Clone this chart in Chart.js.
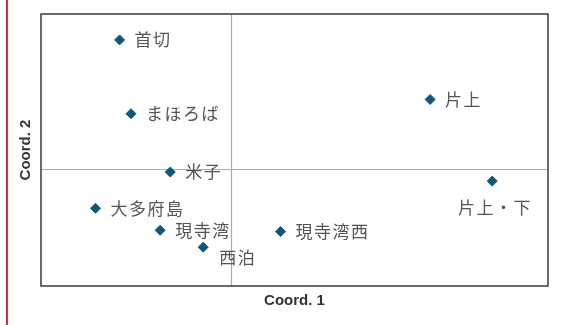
<!DOCTYPE html>
<html lang="ja">
<head>
<meta charset="utf-8">
<title>Coord. 1 / Coord. 2</title>
<script src="https://cdn.jsdelivr.net/npm/chart.js@4/dist/chart.umd.min.js"></script>
<style>
  html, body { margin: 0; padding: 0; background: #fff; }
  #wrap { position: relative; width: 569px; height: 325px; }
  #edge { position: absolute; left: 6px; top: 0; width: 2px; height: 325px; background: #e8262b; }
  canvas { display: block; }
</style>
</head>
<body>
<div id="wrap">
  <div id="edge"></div>
  <canvas id="ordination" width="569" height="325"></canvas>
</div>
<script>
// site names and their positions on the two ordination axes
const sites = ['首切', 'まほろば', '米子', '大多府島', '現寺湾', '西泊', '現寺湾西', '片上', '片上・下'];
const coord1 = [-0.88, -0.79, -0.48, -1.07, -0.56, -0.22, 0.39, 1.57, 2.06];
const coord2 = [1.00, 0.43, -0.02, -0.30, -0.47, -0.60, -0.48, 0.54, -0.09];

// where each name sits relative to its marker
const labelPlace = [
  { dx: 15, dy: 0, align: 'left' },
  { dx: 15, dy: 0, align: 'left' },
  { dx: 15, dy: 0, align: 'left' },
  { dx: 15, dy: 0, align: 'left' },
  { dx: 15, dy: 0, align: 'left' },
  { dx: 16, dy: 10, align: 'left' },
  { dx: 15, dy: 0, align: 'left' },
  { dx: 15, dy: 0, align: 'left' },
  { dx: 2, dy: 26, align: 'center' }
];

const points = sites.map((s, i) => ({ x: coord1[i], y: coord2[i] }));

// frame around the plot and the zero lines
const framePlugin = {
  id: 'frame',
  beforeDatasetsDraw(chart) {
    const { ctx, chartArea: a, scales } = chart;
    const x0 = Math.round(scales.x.getPixelForValue(0)) + 0.5;
    const y0 = Math.round(scales.y.getPixelForValue(0)) + 0.5;
    ctx.save();
    ctx.strokeStyle = '#ababab';
    ctx.lineWidth = 1.2;
    ctx.beginPath();
    ctx.moveTo(x0, a.top); ctx.lineTo(x0, a.bottom);
    ctx.moveTo(a.left, y0); ctx.lineTo(a.right, y0);
    ctx.stroke();
    ctx.strokeStyle = '#3a3a3a';
    ctx.lineWidth = 1.5;
    ctx.strokeRect(a.left, a.top, a.right - a.left, a.bottom - a.top);
    ctx.restore();
  }
};

// site names next to the markers
const namePlugin = {
  id: 'names',
  afterDatasetsDraw(chart) {
    const { ctx } = chart;
    const meta = chart.getDatasetMeta(0);
    ctx.save();
    ctx.font = '17px "Noto Sans CJK JP"';
    ctx.fillStyle = '#555555';
    ctx.textBaseline = 'middle';
    const spaced = 'letterSpacing' in ctx;
    if (spaced) ctx.letterSpacing = '1.5px';
    meta.data.forEach((pt, i) => {
      const p = labelPlace[i];
      ctx.textAlign = p.align;
      let x = pt.x + p.dx;
      if (p.align === 'center' && spaced) x += 0.75;
      ctx.fillText(sites[i], x, pt.y + p.dy);
    });
    ctx.restore();
  }
};

new Chart(document.getElementById('ordination'), {
  type: 'scatter',
  data: {
    datasets: [{
      data: points,
      pointStyle: 'rectRot',
      pointRadius: 5,
      pointBorderWidth: 1,
      backgroundColor: '#10587a',
      borderColor: '#10587a'
    }]
  },
  options: {
    responsive: false,
    animation: false,
    layout: { padding: { left: 17, right: 21, top: 14, bottom: 15 } },
    plugins: { legend: { display: false }, tooltip: { enabled: false } },
    scales: {
      x: {
        min: -1.5, max: 2.5,
        grid: { display: false, drawTicks: false },
        border: { display: false },
        ticks: { display: false },
        title: {
          display: true, text: 'Coord. 1', color: '#333333',
          font: { family: '"Liberation Sans", Arial, sans-serif', size: 15, weight: 'bold', lineHeight: 1.2 },
          padding: { top: 6, bottom: 0 }
        }
      },
      y: {
        min: -0.9, max: 1.2,
        grid: { display: false, drawTicks: false },
        border: { display: false },
        ticks: { display: false },
        title: {
          display: true, text: 'Coord. 2', color: '#333333',
          font: { family: '"Liberation Sans", Arial, sans-serif', size: 15, weight: 'bold', lineHeight: 1.2 },
          padding: { top: 0, bottom: 6 }
        }
      }
    }
  },
  plugins: [framePlugin, namePlugin]
});
</script>
</body>
</html>
